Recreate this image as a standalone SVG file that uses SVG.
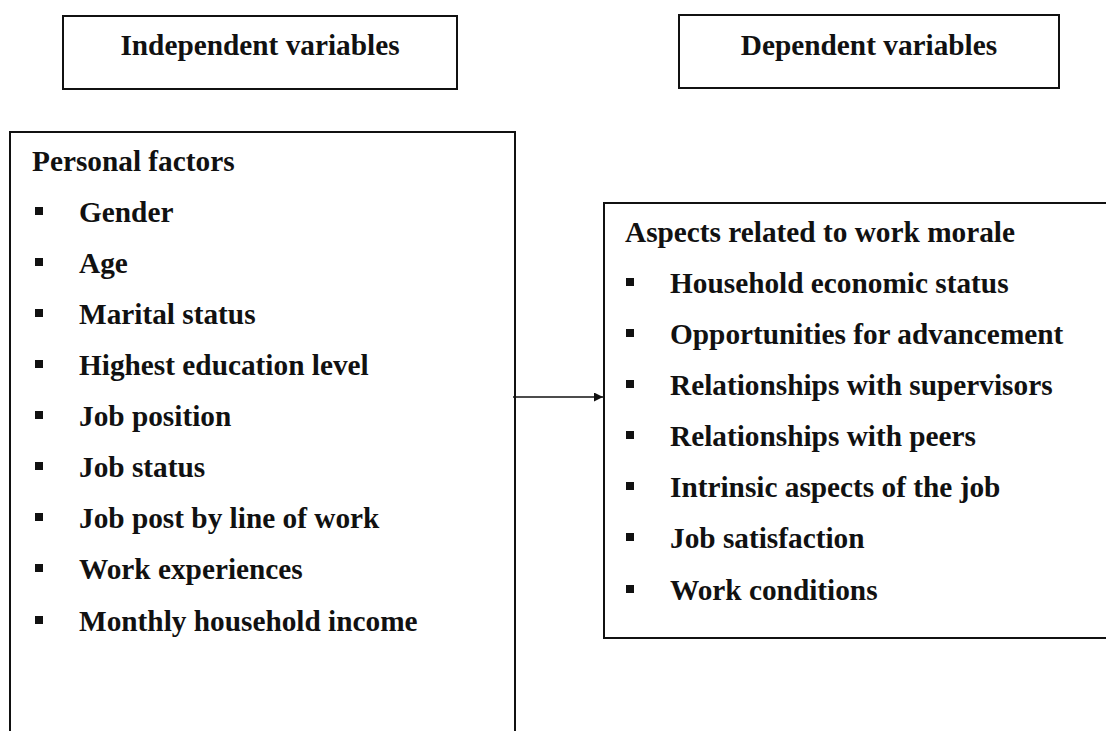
<svg xmlns="http://www.w3.org/2000/svg" width="1106" height="731" viewBox="0 0 1106 731">
  <defs>
    <style>
      .box { fill: #ffffff; stroke: #111111; stroke-width: 2; }
      .hdr { font-family: "Liberation Serif", "Times New Roman", serif; font-weight: bold; font-size: 29.3px; fill: #111111; }
      .txt { font-family: "Liberation Serif", "Times New Roman", serif; font-weight: bold; font-size: 29.3px; fill: #111111; }
      .bul { fill: #111111; }
      .conn { stroke: #111111; stroke-width: 1.6; fill: none; }
    </style>
    <marker id="arrowhead" viewBox="0 0 10 10" refX="10" refY="5" markerWidth="10" markerHeight="9" markerUnits="userSpaceOnUse" orient="auto">
      <path d="M0,0 L10,5 L0,10 Z" fill="#111111"/>
    </marker>
  </defs>
  <rect width="1106" height="731" fill="#ffffff"/>

  <!-- column headers -->
  <g id="hdr-independent">
    <rect class="box" x="63" y="16" width="394" height="73"/>
    <text class="hdr" x="260" y="55" text-anchor="middle">Independent variables</text>
  </g>
  <g id="hdr-dependent">
    <rect class="box" x="679" y="15" width="380" height="73"/>
    <text class="hdr" x="869" y="55" text-anchor="middle">Dependent variables</text>
  </g>

  <!-- personal factors -->
  <g id="personal-factors">
    <rect class="box" x="10" y="132" width="505" height="620"/>
    <text class="txt" x="32" y="171">Personal factors</text>
    <rect class="bul" x="35" y="207" width="8" height="8"/>
    <text class="txt" x="79" y="222">Gender</text>
    <rect class="bul" x="35" y="258" width="8" height="8"/>
    <text class="txt" x="79" y="273">Age</text>
    <rect class="bul" x="35" y="309" width="8" height="8"/>
    <text class="txt" x="79" y="324">Marital status</text>
    <rect class="bul" x="35" y="360" width="8" height="8"/>
    <text class="txt" x="79" y="375">Highest education level</text>
    <rect class="bul" x="35" y="411" width="8" height="8"/>
    <text class="txt" x="79" y="426">Job position</text>
    <rect class="bul" x="35" y="462" width="8" height="8"/>
    <text class="txt" x="79" y="477">Job status</text>
    <rect class="bul" x="35" y="513" width="8" height="8"/>
    <text class="txt" x="79" y="528">Job post by line of work</text>
    <rect class="bul" x="35" y="564" width="8" height="8"/>
    <text class="txt" x="79" y="579">Work experiences</text>
    <rect class="bul" x="35" y="616" width="8" height="8"/>
    <text class="txt" x="79" y="631">Monthly household income</text>
  </g>

  <!-- work morale aspects -->
  <g id="work-morale">
    <rect class="box" x="604" y="203" width="520" height="435"/>
    <text class="txt" x="625" y="242">Aspects related to work morale</text>
    <rect class="bul" x="626" y="278" width="8" height="8"/>
    <text class="txt" x="670" y="293">Household economic status</text>
    <rect class="bul" x="626" y="329" width="8" height="8"/>
    <text class="txt" x="670" y="344">Opportunities for advancement</text>
    <rect class="bul" x="626" y="380" width="8" height="8"/>
    <text class="txt" x="670" y="395">Relationships with supervisors</text>
    <rect class="bul" x="626" y="431" width="8" height="8"/>
    <text class="txt" x="670" y="446">Relationships with peers</text>
    <rect class="bul" x="626" y="482" width="8" height="8"/>
    <text class="txt" x="670" y="497">Intrinsic aspects of the job</text>
    <rect class="bul" x="626" y="533" width="8" height="8"/>
    <text class="txt" x="670" y="548">Job satisfaction</text>
    <rect class="bul" x="626" y="585" width="8" height="8"/>
    <text class="txt" x="670" y="600">Work conditions</text>
  </g>

  <!-- connectors -->
  <g id="connectors">
    <line class="conn" x1="513" y1="397" x2="603" y2="397" marker-end="url(#arrowhead)"/>
  </g>
</svg>
